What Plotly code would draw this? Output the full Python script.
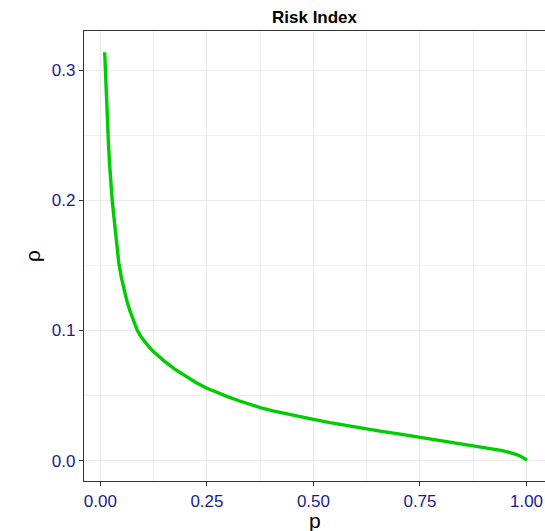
import plotly.graph_objects as go

# values
p_vals = [0.010, 0.0108, 0.0118, 0.013, 0.0145, 0.0165, 0.019, 0.0215, 0.024, 0.028,
          0.0336, 0.038, 0.043, 0.049, 0.0554, 0.062, 0.070, 0.078, 0.086, 0.095,
          0.105, 0.115, 0.125, 0.137, 0.150, 0.1745, 0.200, 0.225, 0.250, 0.275,
          0.300, 0.325, 0.350, 0.375, 0.405, 0.437, 0.470, 0.500, 0.5385, 0.580,
          0.625, 0.660, 0.700, 0.750, 0.797, 0.840, 0.875, 0.914, 0.940, 0.953,
          0.966, 0.977, 0.986, 0.9925, 0.997, 1.000]
rho_vals = [0.314, 0.306, 0.297, 0.286, 0.274, 0.259, 0.243, 0.228, 0.215, 0.199,
            0.1815, 0.1665, 0.1525, 0.1410, 0.1315, 0.1228, 0.1145, 0.1070, 0.1005, 0.0953,
            0.0908, 0.0870, 0.0836, 0.0800, 0.0765, 0.0703, 0.0646, 0.0598, 0.0556, 0.0521,
            0.0490, 0.0460, 0.0433, 0.0408, 0.0382, 0.0358, 0.0336, 0.0317, 0.0292, 0.0268,
            0.0243, 0.0225, 0.0205, 0.0180, 0.0156, 0.0134, 0.0116, 0.0094, 0.0079, 0.0069,
            0.0058, 0.0046, 0.0034, 0.0023, 0.0012, 0.0000]

x_ticks = [0.0, 0.25, 0.5, 0.75, 1.0]
x_tick_labels = ["0.00", "0.25", "0.50", "0.75", "1.00"]
y_ticks = [0.0, 0.1, 0.2, 0.3]
y_tick_labels = ["0.0", "0.1", "0.2", "0.3"]

fig = go.Figure()
fig.add_trace(go.Scatter(x=p_vals, y=rho_vals, mode="lines",
                         line=dict(color="#00CD00", width=3.4),
                         showlegend=False, hoverinfo="skip"))

font_family = "Liberation Sans, Arial, Helvetica, sans-serif"
tick_font = dict(family=font_family, size=17, color="#1c1c8c")

fig.update_layout(
    width=545, height=531,
    margin=dict(l=84, r=0, t=31, b=50, autoexpand=False),
    paper_bgcolor="white", plot_bgcolor="white",
    xaxis=dict(range=[-0.0385, 1.0434], tickvals=x_ticks, ticktext=x_tick_labels,
               tickfont=tick_font, ticks="outside", ticklen=4, tickcolor="#333333", tickwidth=1,
               showline=True, linecolor="#333333", linewidth=1.2, mirror=True,
               showgrid=True, gridcolor="#EBEBEB", gridwidth=1,
               minor=dict(tickvals=[0.125, 0.375, 0.625, 0.875], showgrid=True,
                          gridcolor="#EFEFEF", gridwidth=1, ticks=""),
               zeroline=False, automargin=False),
    yaxis=dict(range=[-0.0157, 0.3303], tickvals=y_ticks, ticktext=y_tick_labels,
               tickfont=tick_font, ticks="outside", ticklen=4, tickcolor="#333333", tickwidth=1,
               showline=True, linecolor="#333333", linewidth=1.2, mirror=False,
               showgrid=True, gridcolor="#EBEBEB", gridwidth=1,
               minor=dict(tickvals=[0.05, 0.15, 0.25], showgrid=True,
                          gridcolor="#EFEFEF", gridwidth=1, ticks=""),
               zeroline=False, automargin=False),
    annotations=[
        dict(text="<b>Risk Index</b>", xref="paper", yref="paper", x=0.5, y=1, yshift=14,
             xanchor="center", yanchor="middle", showarrow=False,
             font=dict(family=font_family, size=17, color="black")),
        dict(text="p", xref="paper", yref="paper", x=0.5, y=0, yshift=-39,
             xanchor="center", yanchor="middle", showarrow=False, borderpad=0,
             font=dict(family=font_family, size=21, color="black")),
        dict(text="ρ", xref="paper", yref="paper", x=0, xshift=-52, y=0.5,
             xanchor="center", yanchor="middle", showarrow=False, textangle=-90, borderpad=0,
             font=dict(family=font_family, size=21, color="black")),
    ],
)

fig.write_html("out.html", config={"displayModeBar": False, "staticPlot": True},
               post_script="document.body.style.margin='0';document.body.style.overflow='hidden';")
